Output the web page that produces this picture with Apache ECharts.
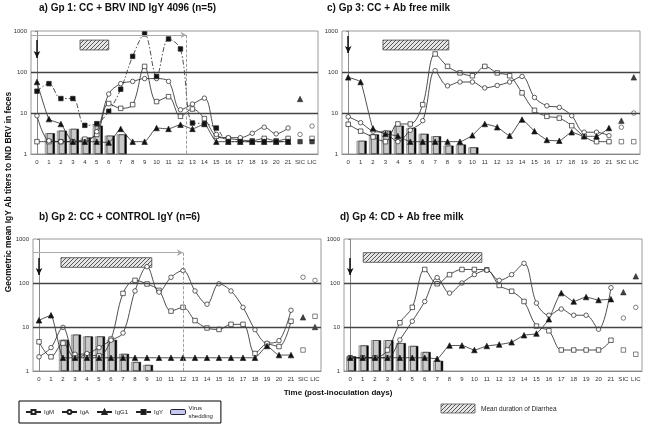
<!DOCTYPE html>
<html><head><meta charset="utf-8">
<script src="https://cdn.jsdelivr.net/npm/echarts@6/dist/echarts.min.js"></script>
<style>html,body{margin:0;padding:0;background:#fff}#c{width:647px;height:427px}</style>
</head><body><div id="c"></div>
<script>
// ---- categories ----
const cats = ['0','1','2','3','4','5','6','7','8','9','10','11','12','13','14','15','16','17','18','19','20','21','SIC','LIC'];
const yTicks = ['1','10','100','1000'];

// ---- panel a: Gp 1 CC + BRV IND IgY 4096 ----
const aIgM  = [2,2,2,2,2.3,3,17,13,16,137,19,25,8.3,12.5,7.3,2.7,2.4,2.2,2.1,2.4,2.1,2.4];
const aIgA  = [8.6,2.1,2,2,2,3.5,29,52,59,69,69,59,12,16.5,23,3,2.5,2.5,3.2,4.5,3.1,4.3];
const aIgG1 = [57,7.1,5.4,2,2,2,1.9,4.1,2,2,4.3,4.1,5.2,4.1,5.4,2,2,2,2,2,2,2];
const aIgY  = [34,52,22.5,22.5,5,5.5,11,38,240,850,78,640,365,5.7,5.5,4.3,2,2,2,2,2,2];
const aVirus = [null,3.2,3.7,4.1,2.5,4.9,2.8,3.0];
const aSIC = {IgM:null, IgA:3, IgG1:22, IgY:2};
const aLIC = {IgM:2.4, IgA:4.8, IgG1:null, IgY:2};

// ---- panel b: Gp 2 CC + CONTROL IgY ----
const bIgM  = [4.6,2.1,4.3,2.0,2.3,2.2,5.3,58,115,95,68,23,28,14,9.5,8.8,11.5,11.5,2.5,4.1,3.6,13.5];
const bIgA  = [2.1,3.4,9.8,2.4,2.5,3.4,5.0,7.3,66,235,62,135,192,66,33,96,66,28,8.7,4.3,4.9,24];
const bIgG1 = [14.2,18.5,2,2,2,2,2,2,2,2,2,2,2,2,2,2,2,2,2,3.7,2.3,2.3];
const bVirus = [null,null,5.1,6.7,6.1,6.1,5.1,2.45,1.6,1.37];
const bSIC = {IgM:3.0, IgA:135, IgG1:16.6};
const bLIC = {IgM:17.5, IgA:115, IgG1:10};

// ---- panel c: Gp 3 CC + Ab free milk ----
const cIgM  = [5.3,3.6,2.6,2,5.4,5.4,16,275,137,95,81,137,95,81,31,11.6,8.3,7.5,4.9,2.7,2,2];
const cIgA  = [8.1,5.8,3.6,3.3,2,3.8,6.5,108,46,57,57,41,47,57,78,24,15,13.7,8.6,3.4,3.4,2.8];
const cIgG1 = [74,57,4.2,3.1,2.75,2,2,2,2,2,2.85,5.4,4.5,2.8,6.9,3.6,2.2,2.1,3.4,2.7,2.7,4.3];
const cVirus = [null,2.1,3.0,3.7,4.9,4.3,3.1,2.7,1.6,1.7,1.45];
const cSIC = {IgM:2, IgA:4.5, IgG1:6.5};
const cLIC = {IgM:2, IgA:10, IgG1:74};

// ---- panel d: Gp 4 CD + Ab free milk ----
const dIgM  = [2,2,2,3.0,12.5,28,203,96,155,203,203,200,88,65,38,10.5,8.2,3.0,3.0,3.0,3.0,5.0];
const dIgA  = [2,2,2,2,5.1,13.5,38,133,59,100,155,195,115,155,280,35,18.5,25.6,18.5,18.5,8.9,78];
const dIgG1 = [2,2,2,2,2,2,2,1.9,3.8,3.8,3.0,3.7,4.0,4.5,6.5,7.1,15,59,38,48,41,43];
const dVirus = [2.15,3.8,5.0,5.0,4.3,3.7,2.7,1.7];
const dSIC = {IgM:3.0, IgA:16, IgG1:62};
const dLIC = {IgM:2.4, IgA:28, IgG1:142};

// ---- hatch pattern ----
const pc = document.createElement('canvas');
pc.width = 4; pc.height = 4;
const px = pc.getContext('2d');
px.fillStyle = '#e6e6e6'; px.fillRect(0,0,4,4);
px.strokeStyle = '#555'; px.lineWidth = 1;
px.beginPath(); px.moveTo(0,4); px.lineTo(4,0); px.moveTo(-1,1); px.lineTo(1,-1); px.moveTo(3,5); px.lineTo(5,3); px.stroke();
const hatch = {image: pc, repeat: 'repeat'};

const FONT = 'Liberation Sans, Arial, sans-serif';

const panels = [
  {grid:{left:31, top:31, width:287, height:123}, IgM:aIgM, IgA:aIgA, IgG1:aIgG1, IgY:aIgY, virus:aVirus, SIC:aSIC, LIC:aLIC,
   diar:[3.6,6.0,600,345], down:[600,219], harrow:[12.5,800], dash:12.5},
  {grid:{left:33, top:239, width:288, height:132}, IgM:bIgM, IgA:bIgA, IgG1:bIgG1, virus:bVirus, SIC:bSIC, LIC:bLIC,
   diar:[1.83,9.4,376,227], down:[372,152], harrow:[12,490], dash:12},
  {grid:{left:342, top:31, width:298, height:123}, IgM:cIgM, IgA:cIgA, IgG1:cIgG1, virus:cVirus, SIC:cSIC, LIC:cLIC,
   diar:[2.8,8.1,600,345], down:[760,290]},
  {grid:{left:344, top:239, width:298, height:132}, IgM:dIgM, IgA:dIgA, IgG1:dIgG1, virus:dVirus, SIC:dSIC, LIC:dLIC,
   diar:[1.05,10.6,490,295], down:[372,152]}
];

function pad(a){ const o = a.slice(); while(o.length < cats.length) o.push(null); return o; }

const grid = [], xAxis = [], yAxis = [], series = [];
// [symbol, size, fill]
const symbols = {IgM:['rect',4.5,'#fff'], IgA:['circle',4.5,'#fff'], IgG1:['triangle',5.5,'#111'], IgY:['rect',4.5,'#111']};

panels.forEach((p, g) => {
  grid.push(Object.assign({show:true, borderColor:'#9a9a9a', borderWidth:1, backgroundColor:'#fff'}, p.grid));
  xAxis.push({type:'category', gridIndex:g, data:cats, boundaryGap:true,
    axisLine:{show:true, lineStyle:{color:'#888', width:1}}, axisTick:{show:false},
    axisLabel:{fontSize:6, color:'#333', margin:5, interval:0, fontFamily:FONT}, splitLine:{show:false}});
  xAxis.push({type:'value', gridIndex:g, min:-0.5, max:23.5, show:false});
  yAxis.push({type:'log', logBase:10, gridIndex:g, min:1, max:1000,
    axisLine:{show:true, lineStyle:{color:'#888'}}, axisTick:{show:true, length:2, lineStyle:{color:'#888'}},
    axisLabel:{fontSize:6, color:'#333', margin:4, fontFamily:FONT,
      formatter: v => yTicks[Math.round(Math.log10(v))] || String(v)},
    splitLine:{show:false}, minorTick:{show:false}});

  series.push({name:'Virus shedding', type:'bar', xAxisIndex:2*g, yAxisIndex:g, data:pad(p.virus), barWidth:8,
    itemStyle:{color:'#c9c9c9', borderColor:'#666', borderWidth:0.5, shadowColor:'#000', shadowOffsetX:2, shadowOffsetY:0, shadowBlur:0}, z:1});

  ['IgM','IgA','IgG1','IgY'].forEach(k => {
    if (!p[k]) return;
    const s = symbols[k];
    series.push({name:k, type:'line', xAxisIndex:2*g, yAxisIndex:g, data:pad(p[k]),
      symbol:s[0], symbolSize:s[1], smooth: k === 'IgG1' ? 0.15 : 0.35,
      lineStyle:{color:'#222', width:0.8, type: k === 'IgY' ? [5,2,1.5,2] : 'solid'},
      itemStyle:{color:s[2], borderColor:'#222', borderWidth:0.7}, z:3});
    const pts = [];
    if (p.SIC[k] != null) pts.push(['SIC', p.SIC[k]]);
    if (p.LIC[k] != null) pts.push(['LIC', p.LIC[k]]);
    series.push({name:k + ' (SIC/LIC)', type:'scatter', xAxisIndex:2*g, yAxisIndex:g, data:pts,
      symbol:s[0], symbolSize:s[1], itemStyle:{color:s[2], borderColor:'#222', borderWidth:0.7}, z:3});
  });

  const ml = [
    {yAxis:10, lineStyle:{color:'#444', width:1.3, type:'solid'}},
    {yAxis:100, lineStyle:{color:'#444', width:1.3, type:'solid'}},
    [{coord:[0, p.down[0]], symbol:'none'}, {coord:[0, p.down[1]], symbol:'arrow', symbolSize:[5,7], lineStyle:{color:'#111', width:1.5, type:'solid'}}]
  ];
  if (p.harrow) {
    ml.push([{coord:[-0.5, p.harrow[1]], symbol:'none'}, {coord:[p.harrow[0], p.harrow[1]], symbol:'arrow', symbolSize:[5,6], lineStyle:{color:'#aaa', width:1.2, type:'solid'}}]);
    ml.push([{coord:[p.dash, p.harrow[1]], symbol:'none'}, {coord:[p.dash, 1], symbol:'none', lineStyle:{color:'#888', width:0.8, type:'dashed'}}]);
  }
  series.push({name:'annot'+g, type:'line', xAxisIndex:2*g+1, yAxisIndex:g, data:[], silent:true,
    markLine:{silent:true, symbol:['none','none'], label:{show:false}, data:ml, animation:false},
    markArea:{silent:true, label:{show:false},
      itemStyle:{color:hatch, borderColor:'#444', borderWidth:0.8},
      data:[[{coord:[p.diar[0], p.diar[2]]}, {coord:[p.diar[1], p.diar[3]]}]]}, z:2});
});

const titleStyle = {fontSize:10, fontWeight:'bold', color:'#111', fontFamily:FONT};
const option = {
  animation:false,
  backgroundColor:'#fff',
  title:[
    {text:'a) Gp 1: CC + BRV IND IgY 4096 (n=5)', left:39, top:3, textStyle:titleStyle, padding:0},
    {text:'b) Gp 2: CC + CONTROL IgY (n=6)', left:39, top:212, textStyle:titleStyle, padding:0},
    {text:'c) Gp 3: CC + Ab free milk', left:327, top:3, textStyle:titleStyle, padding:0},
    {text:'d) Gp 4: CD + Ab free milk', left:340, top:212, textStyle:titleStyle, padding:0}
  ],
  grid, xAxis, yAxis, series,
  legend:{
    data:['IgM','IgA','IgG1','IgY',
      {name:'Virus shedding', itemStyle:{color:'#c8c8f0', borderColor:'#223', borderWidth:1, shadowOffsetX:0, shadowColor:'transparent'}}],
    left:19, top:401, orient:'horizontal', selectedMode:false,
    borderColor:'#000', borderWidth:1, padding:[3,8,3,6], itemGap:7, itemWidth:15, itemHeight:5,
    formatter: n => n === 'Virus shedding' ? 'Virus\nshedding' : n,
    textStyle:{fontSize:6, color:'#222', fontFamily:FONT, padding:[0,0,0,-2], lineHeight:8}
  },
  graphic:[
    {type:'text', x:9, y:192, rotation:Math.PI/2,
     style:{text:'Geometric mean IgY Ab titers to IND BRV in feces', fontSize:8.5, fontWeight:'bold', fill:'#111', fontFamily:FONT, textAlign:'center', textVerticalAlign:'middle'}},
    {type:'text', x:338, y:393,
     style:{text:'Time (post-inoculation days)', fontSize:8, fontWeight:'bold', fill:'#111', fontFamily:FONT, textAlign:'center', textVerticalAlign:'middle'}},
    {type:'rect', shape:{x:441, y:404, width:34, height:9}, style:{fill:hatch, stroke:'#555', lineWidth:0.8}},
    {type:'text', x:481, y:409,
     style:{text:'Mean duration of Diarrhea', fontSize:6.5, fill:'#222', fontFamily:FONT, textAlign:'left', textVerticalAlign:'middle'}}
  ]
};

const chart = echarts.init(document.getElementById('c'), null, {renderer:'canvas'});
chart.setOption(option);
</script>
</body></html>
